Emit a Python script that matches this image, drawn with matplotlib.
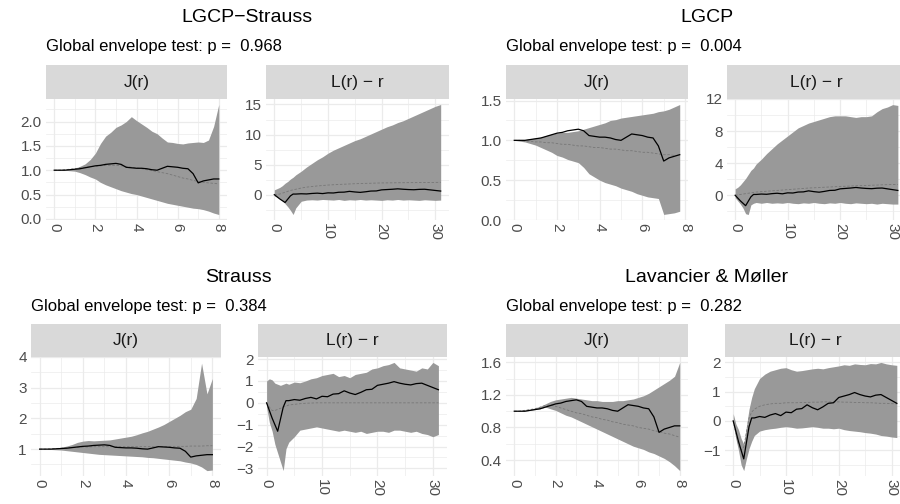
import numpy as np
import matplotlib
matplotlib.use("Agg")
import matplotlib.pyplot as plt

plt.rcParams['font.family'] = ['Liberation Sans', 'DejaVu Sans']

# r grids
r_J = np.arange(0, 8.01, 0.25)
r_L = np.array([0, 0.5, 1, 1.5, 2, 2.5, 3, 3.5, 4] + list(range(5, 32)))

# observed curves (same data for every model)
obs_J = [1.00, 1.00, 1.00, 1.01, 1.02, 1.03, 1.05, 1.07, 1.09, 1.10, 1.12, 1.13, 1.14, 1.12, 1.06, 1.05, 1.04,
         1.04, 1.03, 1.01, 1.00, 1.04, 1.08, 1.07, 1.06, 1.04, 1.03, 0.93, 0.74, 0.78, 0.80, 0.82, 0.82]
obs_L = [0, -0.35, -0.7, -1.0, -1.3, -0.75, -0.2, 0.1, 0.1, 0.15, 0.12, 0.2, 0.25, 0.18, 0.3, 0.28, 0.4, 0.42,
         0.55, 0.45, 0.38, 0.48, 0.6, 0.62, 0.8, 0.85, 0.9, 0.97, 0.9, 0.85, 0.82, 0.88, 0.9, 0.8, 0.7, 0.6]

# LGCP-Strauss
ls_J_hi = [1.00, 1.00, 1.01, 1.02, 1.04, 1.08, 1.13, 1.22, 1.35, 1.55, 1.70, 1.78, 1.88, 1.93, 2.00, 2.10, 2.02,
           1.95, 1.88, 1.80, 1.75, 1.66, 1.58, 1.57, 1.55, 1.54, 1.56, 1.57, 1.58, 1.57, 1.62, 1.90, 2.35]
ls_J_lo = [1.00, 1.00, 1.00, 0.99, 0.98, 0.95, 0.91, 0.86, 0.82, 0.75, 0.70, 0.66, 0.62, 0.58, 0.55, 0.52, 0.50,
           0.47, 0.44, 0.41, 0.38, 0.35, 0.32, 0.30, 0.28, 0.26, 0.24, 0.22, 0.21, 0.19, 0.16, 0.12, 0.09]
ls_J_mu = [1.00, 1.00, 1.01, 1.02, 1.03, 1.05, 1.06, 1.07, 1.08, 1.09, 1.10, 1.10, 1.10, 1.09, 1.08, 1.06, 1.05,
           1.03, 1.01, 0.99, 0.97, 0.95, 0.93, 0.90, 0.87, 0.84, 0.82, 0.79, 0.77, 0.75, 0.74, 0.73, 0.72]
ls_L_hi = [0.8, 1.0, 1.2, 1.5, 1.9, 2.2, 2.6, 2.9, 3.3, 3.9, 4.6, 5.2, 5.8, 6.3, 6.9, 7.4, 7.8, 8.2, 8.6, 9.0,
           9.3, 9.7, 10.1, 10.5, 10.9, 11.3, 11.6, 12.0, 12.3, 12.7, 13.1, 13.5, 13.9, 14.3, 14.7, 15.0]
ls_L_lo = [-0.2, -0.4, -0.6, -1.0, -1.5, -2.0, -2.6, -3.3, -2.2, -1.1, -0.9, -0.85, -0.9, -0.8, -0.85, -0.9,
           -0.8, -0.95, -0.85, -0.9, -0.8, -0.9, -0.85, -0.9, -0.95, -0.85, -0.9, -0.8, -0.9, -0.85, -0.9,
           -0.95, -0.85, -0.9, -0.95, -0.9]
ls_L_mu = [0, 0.05, 0.1, 0.25, 0.4, 0.55, 0.7, 0.8, 0.9, 1.1, 1.25, 1.35, 1.45, 1.52, 1.6, 1.65, 1.7, 1.74,
           1.78, 1.82, 1.85, 1.88, 1.9, 1.93, 1.95, 1.96, 1.97, 1.98, 1.99, 2.0, 2.0, 2.01, 2.02, 2.03, 2.04, 2.05]

# LGCP (J only up to r = 7.75)
lg_J_hi = [1.00, 1.00, 1.01, 1.02, 1.03, 1.04, 1.06, 1.08, 1.09, 1.10, 1.10, 1.11, 1.12, 1.14, 1.16, 1.18,
           1.20, 1.22, 1.25, 1.26, 1.28, 1.29, 1.30, 1.31, 1.32, 1.33, 1.34, 1.36, 1.37, 1.39, 1.42, 1.45]
lg_J_lo = [1.00, 0.99, 0.98, 0.96, 0.94, 0.91, 0.88, 0.85, 0.81, 0.79, 0.76, 0.74, 0.72, 0.66, 0.58, 0.54,
           0.50, 0.47, 0.45, 0.43, 0.40, 0.38, 0.36, 0.33, 0.31, 0.29, 0.28, 0.27, 0.07, 0.08, 0.09, 0.11]
lg_J_mu = [1.00, 1.00, 0.99, 0.99, 0.98, 0.98, 0.97, 0.97, 0.96, 0.95, 0.95, 0.94, 0.93, 0.93, 0.92, 0.91,
           0.91, 0.90, 0.89, 0.89, 0.88, 0.87, 0.87, 0.86, 0.85, 0.85, 0.84, 0.83, 0.82, 0.82, 0.81, 0.81]
lg_L_hi = [0.8, 1.0, 1.3, 1.7, 2.1, 2.6, 3.1, 3.4, 3.9, 4.5, 5.2, 5.8, 6.4, 6.9, 7.4, 7.9, 8.4, 8.7, 9.0, 9.2,
           9.4, 9.6, 9.8, 9.9, 9.9, 9.9, 9.8, 9.7, 9.8, 9.8, 9.9, 10.4, 10.8, 11.0, 11.3, 11.2]
lg_L_lo = [-0.3, -0.7, -1.1, -1.6, -2.3, -2.4, -1.2, -1.0, -0.9, -1.0, -0.9, -1.0, -0.95, -1.0, -0.9, -1.0,
           -1.05, -0.95, -1.0, -0.9, -1.0, -1.05, -0.95, -1.0, -0.9, -1.0, -1.05, -0.95, -1.0, -1.05, -1.0,
           -1.1, -1.0, -1.05, -1.1, -1.1]
lg_L_mu = [0, 0.05, 0.1, 0.15, 0.2, 0.25, 0.3, 0.35, 0.4, 0.45, 0.5, 0.55, 0.6, 0.65, 0.7, 0.75, 0.8, 0.85,
           0.9, 0.93, 0.96, 1.0, 1.03, 1.06, 1.1, 1.12, 1.15, 1.18, 1.2, 1.22, 1.25, 1.27, 1.3, 1.32, 1.34, 1.35]

# Strauss
st_J_hi = [1.00, 1.00, 1.01, 1.03, 1.06, 1.10, 1.15, 1.22, 1.26, 1.28, 1.27, 1.28, 1.29, 1.30, 1.33, 1.36,
           1.39, 1.42, 1.47, 1.53, 1.58, 1.65, 1.72, 1.80, 1.90, 2.00, 2.10, 2.22, 2.30, 2.65, 3.80, 2.80, 3.30]
st_J_lo = [1.00, 1.00, 0.99, 0.98, 0.97, 0.95, 0.93, 0.91, 0.89, 0.87, 0.85, 0.83, 0.82, 0.81, 0.80, 0.79,
           0.78, 0.77, 0.76, 0.75, 0.73, 0.72, 0.70, 0.68, 0.66, 0.64, 0.62, 0.58, 0.55, 0.50, 0.42, 0.30, 0.32]
st_J_mu = [1.00, 1.00, 1.01, 1.02, 1.03, 1.04, 1.05, 1.06, 1.07, 1.07, 1.08, 1.08, 1.08, 1.08, 1.08, 1.08,
           1.08, 1.08, 1.08, 1.08, 1.08, 1.08, 1.08, 1.08, 1.09, 1.09, 1.09, 1.09, 1.10, 1.10, 1.10, 1.11, 1.11]
st_L_hi = [1.0, 1.1, 1.05, 0.9, 0.85, 0.8, 0.85, 0.9, 0.85, 0.95, 0.92, 1.0, 1.1, 1.15, 1.25, 1.3, 1.35, 1.2,
           1.25, 1.15, 1.3, 1.35, 1.4, 1.55, 1.6, 1.7, 1.75, 1.85, 1.6, 1.55, 1.5, 1.45, 1.6, 1.55, 1.85, 1.7]
st_L_lo = [-0.2, -0.9, -1.3, -1.9, -2.3, -2.7, -3.1, -2.1, -1.8, -1.55, -1.25, -1.2, -1.15, -1.1, -1.15, -1.2,
           -1.25, -1.3, -1.25, -1.3, -1.35, -1.3, -1.4, -1.35, -1.3, -1.3, -1.35, -1.25, -1.25, -1.3, -1.35,
           -1.3, -1.4, -1.45, -1.55, -1.45]
st_L_mu = [0, -0.2, -0.35, -0.35, -0.3, -0.25, -0.2, -0.15, -0.1, -0.07, -0.04, -0.02, -0.01, 0, 0, 0, 0, 0,
           0, 0, 0, 0, 0, 0, 0, 0, 0, 0, 0, 0, 0, 0, 0, 0, 0, 0]

# Lavancier & Moller
lm_J_hi = [1.00, 1.00, 1.01, 1.02, 1.04, 1.06, 1.09, 1.12, 1.14, 1.15, 1.16, 1.17, 1.16, 1.15, 1.14, 1.13,
           1.13, 1.12, 1.12, 1.12, 1.13, 1.13, 1.14, 1.15, 1.17, 1.19, 1.22, 1.26, 1.30, 1.34, 1.38, 1.43, 1.60]
lm_J_lo = [1.00, 1.00, 1.00, 1.01, 1.02, 1.03, 1.05, 1.03, 1.01, 0.98, 0.95, 0.93, 0.90, 0.87, 0.84, 0.81,
           0.78, 0.75, 0.72, 0.69, 0.66, 0.63, 0.60, 0.57, 0.55, 0.53, 0.50, 0.48, 0.45, 0.42, 0.38, 0.33, 0.27]
lm_J_mu = [1.00, 1.00, 1.01, 1.02, 1.03, 1.05, 1.07, 1.08, 1.06, 1.04, 1.02, 1.00, 0.98, 0.97, 0.95, 0.93,
           0.92, 0.90, 0.89, 0.87, 0.86, 0.84, 0.83, 0.82, 0.80, 0.79, 0.78, 0.76, 0.75, 0.73, 0.72, 0.70, 0.68]
lm_L_hi = [0.25, -0.1, -0.3, -0.6, -0.8, -0.2, 0.4, 0.8, 1.1, 1.45, 1.6, 1.7, 1.75, 1.8, 1.82, 1.75, 1.7, 1.72,
           1.75, 1.78, 1.8, 1.78, 1.82, 1.85, 1.88, 1.92, 1.9, 1.95, 1.93, 1.92, 1.96, 1.95, 2.0, 1.95, 1.92, 1.9]
lm_L_lo = [-0.1, -0.6, -1.0, -1.5, -1.7, -1.3, -0.95, -0.7, -0.5, -0.35, -0.3, -0.27, -0.25, -0.22, -0.2,
           -0.22, -0.25, -0.24, -0.22, -0.2, -0.22, -0.25, -0.25, -0.27, -0.25, -0.3, -0.33, -0.35, -0.37, -0.4,
           -0.42, -0.45, -0.5, -0.52, -0.55, -0.57]
lm_L_mu = [0, -0.4, -0.8, -1.0, -0.9, -0.4, 0.1, 0.3, 0.4, 0.5, 0.55, 0.58, 0.6, 0.6, 0.62, 0.62, 0.62, 0.63,
           0.63, 0.64, 0.64, 0.65, 0.65, 0.65, 0.65, 0.64, 0.64, 0.63, 0.63, 0.62, 0.62, 0.61, 0.6, 0.6, 0.59, 0.58]

titles = ["LGCP\u2212Strauss", "LGCP", "Strauss", "Lavancier & M\u00f8ller"]
p_values = ["0.968", "0.004", "0.384", "0.282"]
J_xticks = [0, 2, 4, 6, 8]
L_xticks = [0, 10, 20, 30]
J_yticks = [[0.0, 0.5, 1.0, 1.5, 2.0], [0.0, 0.5, 1.0, 1.5], [1, 2, 3, 4], [0.4, 0.8, 1.2, 1.6]]
L_yticks = [[0, 5, 10, 15], [0, 4, 8, 12], [-3, -2, -1, 0, 1, 2], [-1, 0, 1, 2]]
J_ylabels = [["0.0", "0.5", "1.0", "1.5", "2.0"], ["0.0", "0.5", "1.0", "1.5"], ["1", "2", "3", "4"],
             ["0.4", "0.8", "1.2", "1.6"]]
L_ylabels = [["0", "5", "10", "15"], ["0", "4", "8", "12"], ["\u22123", "\u22122", "\u22121", "0", "1", "2"],
             ["\u22121", "0", "1", "2"]]

J_data = [(ls_J_lo, ls_J_hi, ls_J_mu), (lg_J_lo, lg_J_hi, lg_J_mu),
          (st_J_lo, st_J_hi, st_J_mu), (lm_J_lo, lm_J_hi, lm_J_mu)]
L_data = [(ls_L_lo, ls_L_hi, ls_L_mu), (lg_L_lo, lg_L_hi, lg_L_mu),
          (st_L_lo, st_L_hi, st_L_mu), (lm_L_lo, lm_L_hi, lm_L_mu)]

# layout in pixels: title centre, subtitle left, J panel x-range, L panel x-range, strip top, panel top, panel bottom
layout = [
    dict(tx=247, ty=18, sx=46, sy=46, J=(46, 227), L=(266, 449), st=65, pt=99, pb=220),
    dict(tx=707, ty=18, sx=506, sy=46, J=(506, 688), L=(727, 906), st=65, pt=99, pb=220),
    dict(tx=238, ty=277, sx=31, sy=307, J=(31, 221), L=(258, 447), st=324, pt=357, pb=476),
    dict(tx=707, ty=277, sx=506, sy=307, J=(506, 688), L=(725, 905), st=324, pt=357, pb=476),
]

W, H = 900, 504
fig = plt.figure(figsize=(9, 5.04), dpi=100)

FILL = '#999999'
GRID = '#ebebeb'
TXT = '#4d4d4d'


def minor_of(major, lims):
    d = major[1] - major[0]
    m = np.arange(major[0] - d / 2, major[-1] + d, d)
    return [v for v in m if lims[0] <= v <= lims[1]]


def panel(x0, x1, top, bot, strip_top, label, r, lo, hi, mu, obs, xt, yt, ylab):
    ax = fig.add_axes([x0 / W, 1 - bot / H, (x1 - x0) / W, (bot - top) / H])
    ax.fill_between(r, lo, hi, color=FILL, lw=0, zorder=2)
    ax.plot(r, mu, color='#777777', lw=0.6, ls=(0, (3, 2)), zorder=3)
    ax.plot(r, obs, color='black', lw=0.9, zorder=4)
    ymin, ymax = min(lo), max(hi)
    ry = ymax - ymin
    ax.set_ylim(ymin - 0.05 * ry, ymax + 0.05 * ry)
    xr = r[-1] - r[0]
    ax.set_xlim(r[0] - 0.05 * xr, r[-1] + 0.05 * xr)
    ax.set_xticks(xt)
    ax.set_xticklabels([str(v) for v in xt], rotation=270, va='top', ha='center')
    ax.set_yticks(yt)
    ax.set_yticklabels(ylab)
    ax.set_xticks(minor_of(xt, ax.get_xlim()), minor=True)
    ax.set_yticks(minor_of(yt, ax.get_ylim()), minor=True)
    ax.grid(which='major', color=GRID, lw=0.9, zorder=0)
    ax.grid(which='minor', color=GRID, lw=0.5, zorder=0)
    ax.set_axisbelow(True)
    for s in ax.spines.values():
        s.set_visible(False)
    ax.tick_params(which='both', length=0, labelsize=11, labelcolor=TXT, pad=3)
    ax.tick_params(axis='x', pad=2)
    sax = fig.add_axes([x0 / W, 1 - top / H, (x1 - x0) / W, (top - strip_top) / H])
    sax.set_facecolor('#d9d9d9')
    sax.set_xticks([])
    sax.set_yticks([])
    for s in sax.spines.values():
        s.set_visible(False)
    sax.text(0.5, 0.5, label, ha='center', va='center', fontsize=12.5, color='#1a1a1a',
             transform=sax.transAxes)
    return ax


for i, g in enumerate(layout):
    fig.text(g['tx'] / W, 1 - g['ty'] / H, titles[i], ha='center', va='center', fontsize=14)
    fig.text(g['sx'] / W, 1 - g['sy'] / H, "Global envelope test: p =  " + p_values[i],
             ha='left', va='center', fontsize=12)
    lo, hi, mu = J_data[i]
    n = len(lo)
    panel(g['J'][0], g['J'][1], g['pt'], g['pb'], g['st'], "J(r)", r_J[:n], lo, hi, mu, obs_J[:n],
          J_xticks, J_yticks[i], J_ylabels[i])
    lo, hi, mu = L_data[i]
    panel(g['L'][0], g['L'][1], g['pt'], g['pb'], g['st'], "L(r) \u2212 r", r_L, lo, hi, mu, obs_L,
          L_xticks, L_yticks[i], L_ylabels[i])

plt.savefig('out.png', dpi=100)
